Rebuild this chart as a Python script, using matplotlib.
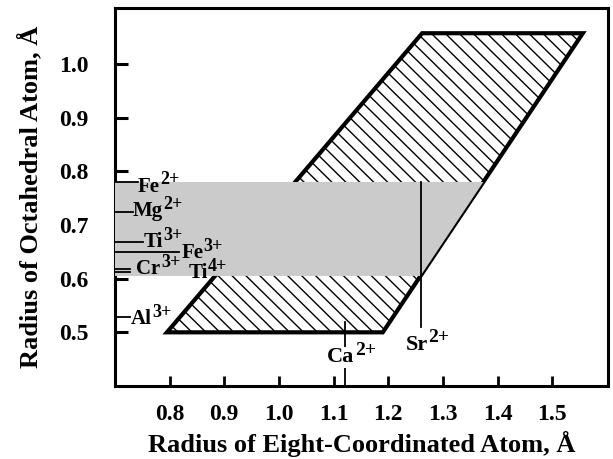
import numpy as np
import matplotlib
matplotlib.use('Agg')
import matplotlib.pyplot as plt
from matplotlib.patches import Polygon

plt.rcParams['font.family'] = ['Liberation Serif', 'DejaVu Serif']
plt.rcParams['font.weight'] = 'bold'

# Stability field outline (eight-coordinated radius, octahedral radius)
field_x = [0.795, 1.19, 1.556, 1.262]
field_y = [0.50, 0.50, 1.057, 1.057]

# Octahedral cations
oct_elem = ['Fe', 'Mg', 'Ti', 'Fe', 'Cr', 'Ti', 'Al']
oct_charge = ['2+', '2+', '3+', '3+', '3+', '4+', '3+']
oct_radii = [0.78, 0.725, 0.669, 0.65, 0.618, 0.612, 0.528]
oct_line_end = [0.742, 0.733, 0.751, 0.817, 0.727, 0.727, 0.7275]
oct_label_x = [0.742, 0.733, 0.752, 0.821, 0.739, 0.834, 0.7285]
oct_label_y = [0.762, 0.716, 0.659, 0.638, 0.608, 0.601, 0.515]

# Eight-coordinated cations
a_elem = ['Ca', 'Sr']
a_charge = ['2+', '2+']
a_radii = [1.12, 1.26]
a_line_lo = [0.40, 0.51]
a_line_hi = [0.52, 0.78]
a_label_x = [1.088, 1.232]
a_label_y = [0.444, 0.468]

# shaded band: range of the transition-metal octahedral cations
band_lo = 0.605
band_hi = 0.78

xticks = [0.8, 0.9, 1.0, 1.1, 1.2, 1.3, 1.4, 1.5]
yticks = [0.5, 0.6, 0.7, 0.8, 0.9, 1.0]

fig = plt.figure(figsize=(6.13, 4.59), dpi=100)
ax = fig.add_axes([0.1876, 0.159, 0.8042, 0.8236])
ax.set_xlim(0.7, 1.602)
ax.set_ylim(0.40, 1.104)

# hatched field
field = Polygon(list(zip(field_x, field_y)), closed=True, facecolor='white',
                edgecolor='none', zorder=1)
ax.add_patch(field)
for c in np.arange(1.29, 2.65, 0.0255):
    ln, = ax.plot([c - 1.2, c - 0.3], [1.2, 0.3], color='black', lw=1.0, zorder=2)
    ln.set_clip_path(field)

# grey band, bounded on the right by the field's right edge
def right_edge(y):
    return np.interp(y, [field_y[1], field_y[2]], [field_x[1], field_x[2]])

band = Polygon([(0.7, band_lo), (right_edge(band_lo), band_lo),
                (right_edge(band_hi), band_hi), (0.7, band_hi)],
               closed=True, facecolor='#cbcbcb', edgecolor='none', zorder=4)

outline = Polygon(list(zip(field_x, field_y)), closed=True, facecolor='none',
                  edgecolor='black', lw=3.0, joinstyle='miter', zorder=3)
ax.add_patch(outline)
ax.add_patch(band)


def ion_label(x, y, elem, charge, size, **kw):
    t = ax.text(x, y, elem, fontsize=size, ha='left', va='baseline', zorder=6, **kw)
    ax.annotate(charge, xy=(1, 1), xycoords=t, xytext=(0.3, -5.5), textcoords='offset points',
                fontsize=size - 2, ha='left', va='baseline', zorder=7)


# octahedral cation markers on the left axis
for el, ch, r, le, lx, ly in zip(oct_elem, oct_charge, oct_radii, oct_line_end, oct_label_x, oct_label_y):
    ax.plot([0.7, le], [r, r], color='black', lw=1.3, zorder=5)
    ion_label(lx, ly, el, ch, 15)

# eight-coordinated cation markers
for el, ch, r, lo, hi, lx, ly in zip(a_elem, a_charge, a_radii, a_line_lo, a_line_hi, a_label_x, a_label_y):
    ax.plot([r, r], [lo, hi], color='black', lw=1.3, zorder=5)
    ion_label(lx, ly, el, ch, 16, bbox=dict(facecolor='white', edgecolor='none', pad=0.5))

ax.set_xticks(xticks)
ax.set_yticks(yticks)
ax.set_xticklabels([f'{v:.1f}' for v in xticks])
ax.set_yticklabels([f'{v:.1f}' for v in yticks])
ax.tick_params(axis='x', direction='in', length=7, width=2, labelsize=17, pad=13)
ax.tick_params(axis='y', direction='in', length=9.5, width=2.2, labelsize=17, pad=19)
for s in ax.spines.values():
    s.set_linewidth(2.2)

ax.set_xlabel('Radius of Eight-Coordinated Atom, Å', fontsize=19, fontweight='bold', labelpad=4)
ax.set_ylabel('Radius of Octahedral Atom, Å', fontsize=19, fontweight='bold', labelpad=12)

fig.savefig('out.png', dpi=100)
